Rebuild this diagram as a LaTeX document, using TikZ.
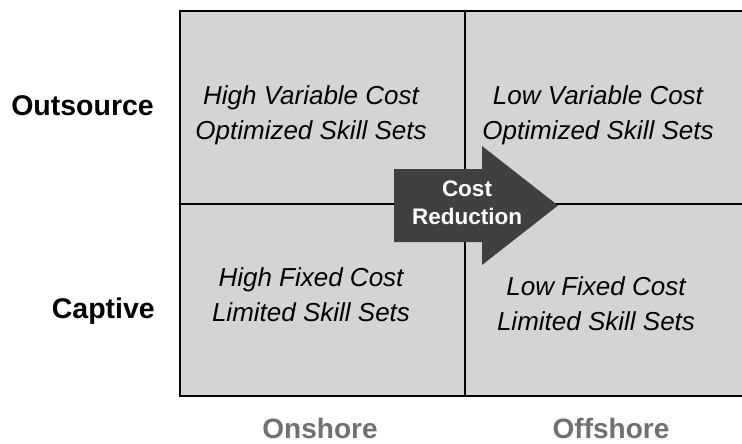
\documentclass[tikz,border=0pt]{standalone}
\usepackage{fontspec}
\setmainfont{Liberation Sans}
\definecolor{cellgray}{RGB}{212,212,212}
\definecolor{arrowgray}{RGB}{64,64,64}
\definecolor{axisgray}{RGB}{112,112,112}

\begin{document}
\begin{tikzpicture}[x=1pt, y=-1pt, every node/.style={inner sep=0pt, align=center},
  celltext/.style={font=\fontsize{26}{35}\selectfont\itshape},
  rowlab/.style={font=\fontsize{28.5}{34}\selectfont\bfseries, anchor=base east},
  collab/.style={font=\fontsize{28}{34}\selectfont\bfseries, text=axisgray, anchor=base}]
\useasboundingbox (0,0) rectangle (742,444);
%% --- Matrix ---
\fill[cellgray] (180,11) rectangle (757,396);
\draw[line width=2.2pt] (757,11) -- (180,11) -- (180,396) -- (757,396);
\draw[line width=1.6pt] (465,11) -- (465,396);
\draw[line width=1.6pt] (180,204) -- (757,204);
\node[celltext] (hvc) at (311,115) {High Variable Cost\\Optimized Skill Sets};
\node[celltext] (lvc) at (598,115) {Low Variable Cost\\Optimized Skill Sets};
\node[celltext] (hfc) at (311,295) {High Fixed Cost\\Limited Skill Sets};
\node[celltext] (lfc) at (596,304) {Low Fixed Cost\\Limited Skill Sets};
%% --- Arrow ---
\fill[arrowgray] (394,169) -- (482,169) -- (482,146) -- (558,205.5) -- (482,265) -- (482,242) -- (394,242) -- cycle;
\node[font=\fontsize{22.5}{28}\selectfont\bfseries, text=white] (costred) at (467,203) {Cost\\Reduction};
%% --- Axis labels ---
\node[rowlab] (outsource) at (154,115) {Outsource};
\node[rowlab] (captive) at (155,318) {Captive};
\node[collab] (onshore) at (320,438) {Onshore};
\node[collab] (offshore) at (611,438) {Offshore};
\end{tikzpicture}
\end{document}
